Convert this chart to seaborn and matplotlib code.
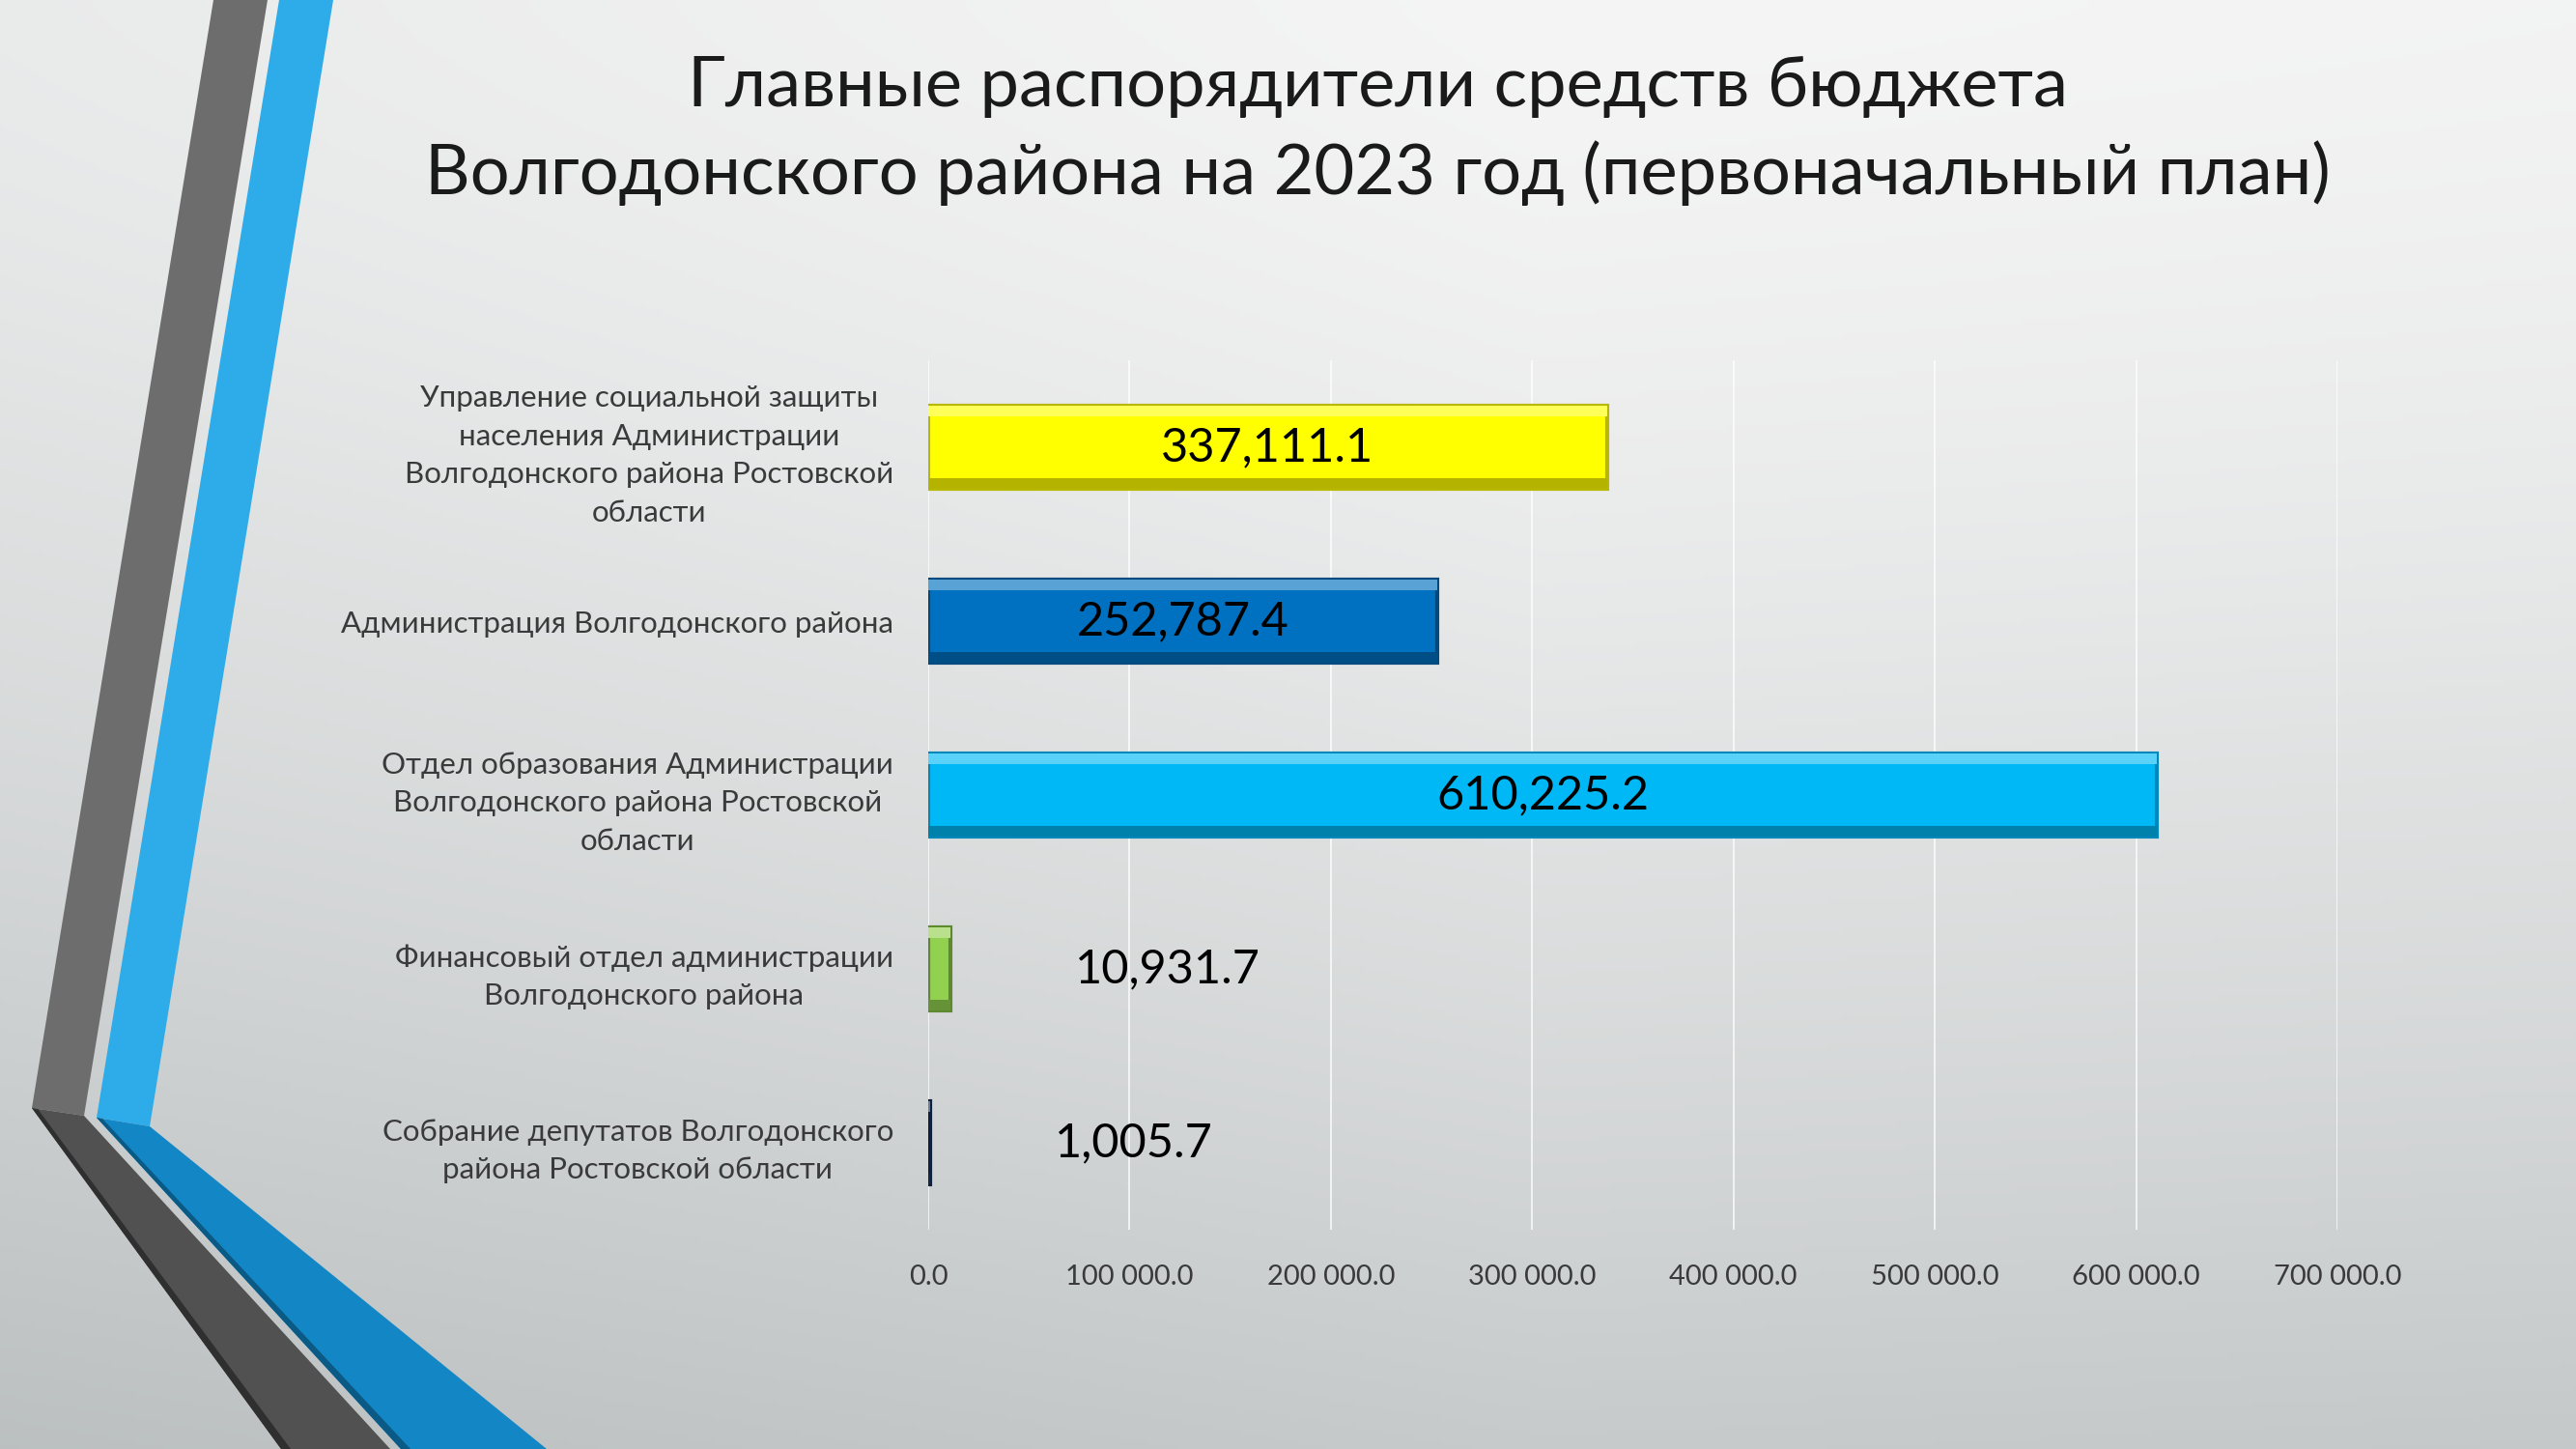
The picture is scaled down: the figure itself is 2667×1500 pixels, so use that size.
import numpy as np
import matplotlib.pyplot as plt
from matplotlib.patches import Polygon, Rectangle
from matplotlib.colors import to_rgb
from matplotlib.ticker import FuncFormatter
import seaborn as sns

# --- данные ---
categories = [
    "Управление социальной защиты\nнаселения Администрации\nВолгодонского района Ростовской\nобласти",
    "Администрация Волгодонского района",
    "Отдел образования Администрации\nВолгодонского района Ростовской\nобласти",
    "Финансовый отдел администрации\nВолгодонского района",
    "Собрание депутатов Волгодонского\nрайона Ростовской области",
]
values = [337111.1, 252787.4, 610225.2, 10931.7, 1005.7]
bar_colors = ["#ffff00", "#0070c0", "#00b8f5", "#92d050", "#1f3864"]
edge_colors = ["#b8b800", "#004a80", "#0088bb", "#5e8a2e", "#10203a"]
x_ticks = [0, 100000, 200000, 300000, 400000, 500000, 600000, 700000]
title = "Главные распорядители средств бюджета\nВолгодонского района на 2023 год (первоначальный план)"

sns.set_style("white")
plt.rcParams['font.family'] = ['Lato', 'DejaVu Sans']

W, H = 2667, 1500
fig = plt.figure(figsize=(W / 100, H / 100), dpi=100)

# фон - мягкий градиент
yy, xx = np.mgrid[0:1:300j, 0:1:534j]
xterm = np.where(xx < 0.6, 0.3 * (0.6 - xx), 0.08 * (xx - 0.6))
t = np.clip(0.72 * yy ** 1.4 + xterm, 0, 1)[..., None]
light = np.array([245, 245, 245]) / 255
dark = np.array([181, 186, 187]) / 255
img = light * (1 - t) + dark * t
bg = fig.add_axes([0, 0, 1, 1], zorder=-10)
bg.imshow(img, aspect='auto', extent=[0, 1, 0, 1], origin='upper')
bg.axis('off')


def px(pts):
    return [(x / W, 1 - y / H) for x, y in pts]


# декоративные полосы слева
shapes = [
    ([(221, 0), (277, 0), (87, 1155), (33, 1147)], "#6d6d6d"),
    ([(33, 1147), (87, 1155), (404, 1500), (291, 1500)], "#515151"),
    ([(33, 1147), (39, 1148), (301, 1500), (291, 1500)], "#2f2f2f"),
    ([(289, 0), (345, 0), (155, 1166), (100, 1157)], "#2eabe9"),
    ([(100, 1157), (155, 1166), (566, 1500), (415, 1500)], "#1387c5"),
    ([(100, 1157), (106, 1158), (425, 1500), (415, 1500)], "#0b5a86"),
]
for pts, c in shapes:
    fig.patches.append(Polygon(px(pts), closed=True, transform=fig.transFigure,
                               facecolor=c, edgecolor='none', zorder=-5))

# --- график ---
ax = fig.add_axes([961 / W, 1 - 1273 / H, (2420 - 961) / W, (1273 - 373) / H])
ax.patch.set_alpha(0)
sns.barplot(x=values, y=categories, hue=categories, palette=bar_colors,
            legend=False, width=0.48, saturation=1, ax=ax, zorder=3)

# лёгкий эффект фаски на столбцах
for patch, fc, ec in zip(list(ax.patches), bar_colors, edge_colors):
    patch.set_edgecolor(ec)
    patch.set_linewidth(3)
    x0, y0 = patch.get_x(), patch.get_y()
    w, h = patch.get_width(), patch.get_height()
    rgb = np.array(to_rgb(fc))
    hi = rgb + (1 - rgb) * 0.35
    lo = rgb * 0.7
    ax.add_patch(Rectangle((x0, y0), w, h * 0.13, facecolor=hi, edgecolor='none', zorder=4))
    ax.add_patch(Rectangle((x0, y0 + h * 0.87), w, h * 0.13, facecolor=lo, edgecolor='none', zorder=4))

ax.set_xlim(0, 700000)
ax.set_xticks(x_ticks)
ax.xaxis.set_major_formatter(FuncFormatter(lambda v, p: f"{v:,.1f}".replace(",", " ")))
ax.grid(axis='x', color='white', linewidth=1.2, alpha=0.85, zorder=0)
ax.grid(axis='y', visible=False)
sns.despine(ax=ax, left=True, bottom=True)
ax.set_xlabel("")
ax.set_ylabel("")
ax.tick_params(axis='x', length=0, pad=26, labelsize=21, labelcolor='#3a3a3a')
ax.tick_params(axis='y', length=0, pad=26, labelsize=22.5, labelcolor='#3a3a3a')
for lbl in ax.get_yticklabels():
    lbl.set_multialignment('center')
    lbl.set_linespacing(1.5)

ax.set_yticks([i + 0.5 for i in range(-1, len(categories))], minor=True)
ax.tick_params(axis='y', which='minor', length=8, color='#f8f8f8', width=1.5)

# подписи значений
for i, v in enumerate(values):
    if v > 100000:
        ax.text(v / 2, i, f"{v:,.1f}", ha='center', va='center', fontsize=35, color='black', zorder=5)
    else:
        ax.text(v + 62000, i, f"{v:,.1f}", ha='left', va='center', fontsize=35, color='black', zorder=5)

fig.text(1426 / W, 1 - 135 / H, title, ha='center', va='center', fontsize=52,
         color='#1a1a1a', linespacing=1.4)

plt.savefig('out.png', dpi=100)
